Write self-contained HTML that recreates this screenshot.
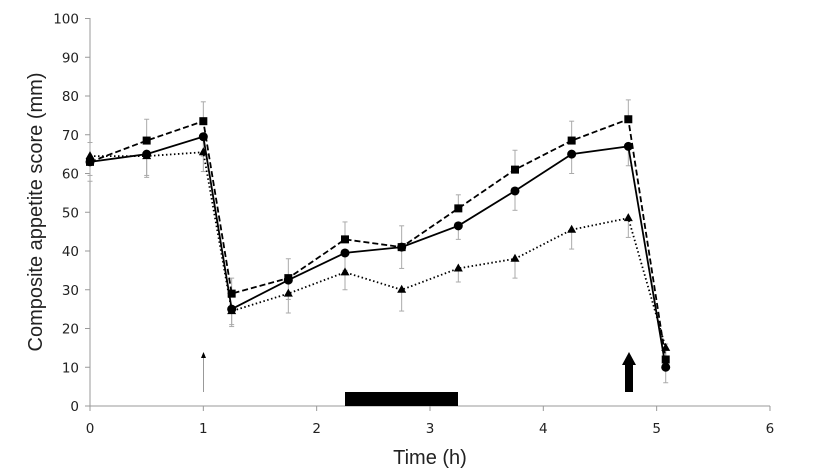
<!DOCTYPE html>
<html><head><style>
body{margin:0;background:#fff;}
svg{display:block;}
text{font-family:"Liberation Sans","DejaVu Sans",sans-serif;fill:#222;}
.tk{font-family:"DejaVu Sans","Liberation Sans",sans-serif;}
</style></head><body>
<svg id="s" width="822" height="469" xmlns="http://www.w3.org/2000/svg"></svg>
<script>
const X=t=>90+t*113.33, Y=v=>406-v*3.875;
let h='';
h+=`<line x1="90" y1="18" x2="90" y2="406" stroke="#999" stroke-width="1"/>`;
h+=`<line x1="90" y1="406" x2="770" y2="406" stroke="#999" stroke-width="1"/>`;
for(let v=0;v<=100;v+=10){h+=`<line x1="85" x2="90" y1="${Y(v)}" y2="${Y(v)}" stroke="#999"/><text class="tk" x="79" y="${Y(v)+5}" font-size="13.5" text-anchor="end">${v}</text>`;}
for(let t=0;t<=6;t++){h+=`<line x1="${X(t)}" x2="${X(t)}" y1="406" y2="411" stroke="#999"/><text class="tk" x="${X(t)}" y="433" font-size="13.5" text-anchor="middle">${t}</text>`;}
h+=`<text x="430" y="464" font-size="20" text-anchor="middle">Time (h)</text>`;
h+=`<text transform="translate(42,212) rotate(-90)" font-size="20" text-anchor="middle">Composite appetite score (mm)</text>`;
const T=[0,0.5,1,1.25,1.75,2.25,2.75,3.25,3.75,4.25,4.75,5.08];
const S=[63,68.5,73.5,29,33,43,41,51,61,68.5,74,12];
const C=[63,65,69.5,25,32.5,39.5,41,46.5,55.5,65,67,10];
const R=[64.5,64.5,65.5,24.5,29,34.5,30,35.5,38,45.5,48.5,15];
const E=[5,5.5,5,4,5,4.5,5.5,3.5,5,5,5,4];
function eb(arr,dir){arr.forEach((v,i)=>{const x=X(T[i]);const y2=Y(v+dir*E[i]);h+=`<line x1="${x}" x2="${x}" y1="${Y(v)}" y2="${y2}" stroke="#aaa"/><line x1="${x-2.5}" x2="${x+2.5}" y1="${y2}" y2="${y2}" stroke="#aaa"/>`;});}
eb(S,1);eb(C,-1);eb(R,-1);
const pts=a=>a.map((v,i)=>X(T[i]).toFixed(1)+','+Y(v).toFixed(1)).join(' ');
h+=`<polyline points="${pts(R)}" fill="none" stroke="#000" stroke-width="1.8" stroke-dasharray="1.5,2.5"/>`;
h+=`<polyline points="${pts(C)}" fill="none" stroke="#000" stroke-width="1.8"/>`;
h+=`<polyline points="${pts(S)}" fill="none" stroke="#000" stroke-width="1.8" stroke-dasharray="6,3"/>`;
R.forEach((v,i)=>{const x=X(T[i]),y=Y(v);h+=`<polygon points="${x},${y-5} ${x-4.5},${y+3} ${x+4.5},${y+3}" fill="#000"/>`;});
C.forEach((v,i)=>{h+=`<circle cx="${X(T[i])}" cy="${Y(v)}" r="4.5" fill="#000"/>`;});
S.forEach((v,i)=>{h+=`<rect x="${X(T[i])-4}" y="${Y(v)-4}" width="8" height="8" fill="#000"/>`;});
h+=`<rect x="345" y="392" width="113" height="14" fill="#000"/>`;
h+=`<line x1="203.5" x2="203.5" y1="392" y2="358" stroke="#999" stroke-width="1"/><polygon points="203.5,352 201,358 206,358" fill="#000"/>`;
h+=`<rect x="625" y="364" width="8" height="28" fill="#000"/><polygon points="629,352 622,365 636,365" fill="#000"/>`;
document.getElementById('s').innerHTML=h;
</script>
</body></html>
